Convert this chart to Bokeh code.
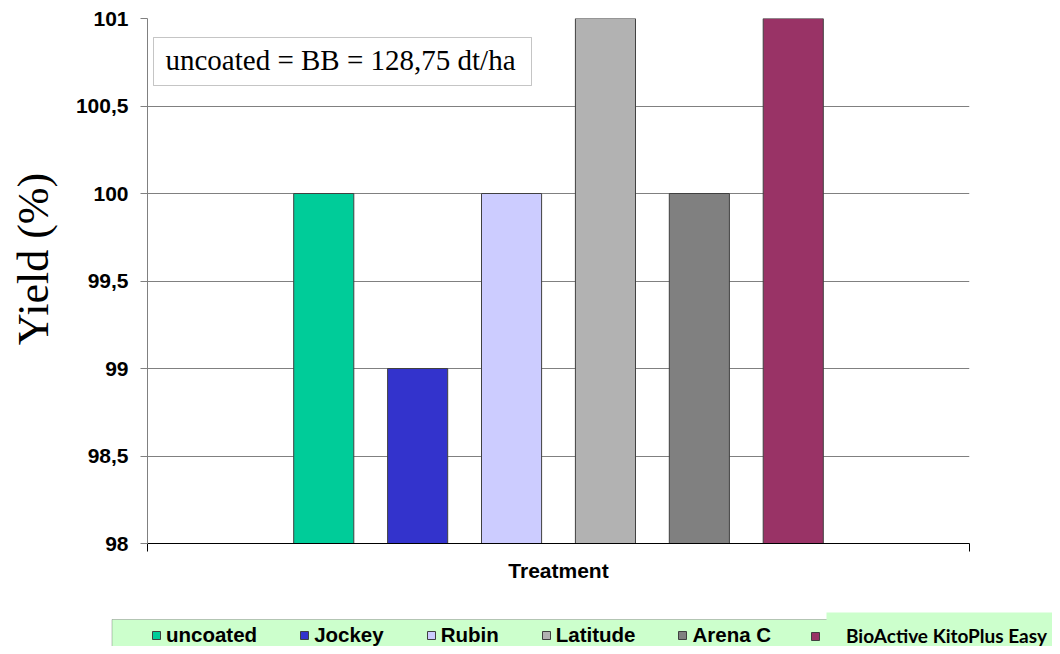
from bokeh.plotting import figure
from bokeh.layouts import column, row
from bokeh.models import (Range1d, FixedTicker, Legend, LegendItem, Label,
                          BoxAnnotation, ColumnDataSource)
from bokeh.embed import file_html
from bokeh.resources import INLINE

# ---- data ----
categories = ["uncoated", "Jockey", "Rubin", "Latitude", "Arena C", "BioActive KitoPlus Easy"]
yield_pct = [100, 99, 100, 101, 100, 101]
colors = ["#00CC99", "#3333CC", "#CCCCFF", "#B2B2B2", "#808080", "#993366"]
y_ticks = [98, 98.5, 99, 99.5, 100, 100.5, 101]
y_tick_labels = ["98", "98,5", "99", "99,5", "100", "100,5", "101"]
note_text = "uncoated = BB = 128,75 dt/ha"
y_title = "Yield (%)"
x_title = "Treatment"
y_min, y_max = 98, 101

x_pos = list(range(1, len(categories) + 1))
pad = 1.877
x_start, x_end = x_pos[0] - pad, x_pos[-1] + pad

src = ColumnDataSource(dict(x=x_pos, top=yield_pct, color=colors, label=categories))

W = 1052
H_MAIN = 600
H_LEG = 46

p = figure(width=W, height=H_MAIN,
           x_range=Range1d(x_start, x_end), y_range=Range1d(y_min, y_max),
           output_backend="svg", toolbar_location=None,
           min_border_left=147, min_border_right=83,
           min_border_top=18, min_border_bottom=57)
p.outline_line_color = None

bars = p.vbar(x="x", top="top", bottom=y_min, width=0.64, source=src,
              fill_color="color", line_color="#404040", line_width=1)

# grid
p.xgrid.visible = False
p.ygrid.grid_line_color = "#808080"
p.ygrid.grid_line_width = 1

# y axis
p.yaxis.ticker = FixedTicker(ticks=y_ticks)
p.yaxis.major_label_overrides = dict(zip(y_ticks, y_tick_labels))
p.yaxis.axis_line_color = "#808080"
p.yaxis.major_tick_line_color = "#808080"
p.yaxis.major_tick_out = 7
p.yaxis.major_tick_in = 0
p.yaxis.minor_tick_line_color = None
p.yaxis.major_label_text_font = "Liberation Sans"
p.yaxis.major_label_text_font_style = "bold"
p.yaxis.major_label_text_font_size = "21px"
p.yaxis.major_label_text_color = "black"
p.yaxis.major_label_standoff = 12
p.yaxis.axis_label = "\u00a0" * 4 + y_title
p.yaxis.axis_label_text_font = "Liberation Serif"
p.yaxis.axis_label_text_font_style = "normal"
p.yaxis.axis_label_text_font_size = "44px"
p.yaxis.axis_label_text_color = "black"
p.yaxis.axis_label_standoff = 15

# x axis
p.xaxis.ticker = FixedTicker(ticks=[x_start, x_end])
p.xaxis.major_label_overrides = {x_start: "", x_end: ""}
p.xaxis.axis_line_color = "black"
p.xaxis.major_tick_line_color = "black"
p.xaxis.major_tick_out = 8
p.xaxis.major_tick_in = 0
p.xaxis.minor_tick_line_color = None
p.xaxis.major_label_standoff = 0
p.xaxis.axis_label = x_title
p.xaxis.axis_label_text_font = "Liberation Sans"
p.xaxis.axis_label_text_font_style = "bold"
p.xaxis.axis_label_text_font_size = "21px"
p.xaxis.axis_label_text_color = "black"
p.xaxis.axis_label_standoff = 7

# note box
note_box = BoxAnnotation(left=153, right=531, top=37, bottom=85,
                         left_units="canvas", right_units="canvas",
                         top_units="canvas", bottom_units="canvas",
                         fill_color="white", fill_alpha=1,
                         line_color="#404040", line_width=1)
p.add_layout(note_box)
p.add_layout(Label(x=165, y=59, x_units="canvas", y_units="canvas",
                   text=note_text, text_font="Liberation Serif",
                   text_font_size="29px", text_color="black",
                   text_baseline="alphabetic"))

# ---- legend strip ----
lf = figure(width=W, height=H_LEG, x_range=Range1d(0, W), y_range=Range1d(H_LEG, 0),
            output_backend="svg", toolbar_location=None,
            x_axis_location=None, y_axis_location=None,
            min_border=0, min_border_left=0, min_border_right=0,
            min_border_top=0, min_border_bottom=0)
lf.outline_line_color = None
lf.xgrid.visible = False
lf.ygrid.visible = False

# proxy renderer (outside the strip's view) that supplies the legend swatches
proxy = lf.vbar(x="x", top="top", bottom=y_min, width=0.64, source=src,
                fill_color="color", line_color="#404040", line_width=1)

lf.add_layout(BoxAnnotation(left=111.5, right=1200, top=19, bottom=200,
                            fill_color="#CCFFCC", fill_alpha=1,
                            line_color="#404040", line_width=1))
lf.add_layout(BoxAnnotation(left=826, right=1200, top=12, bottom=200,
                            fill_color="#CCFFCC", fill_alpha=1, line_color=None))

legend1 = Legend(items=[LegendItem(label=categories[i], renderers=[proxy], index=i)
                        for i in range(5)],
                 orientation="horizontal", location=(151, -1),
                 glyph_width=10, glyph_height=10, label_standoff=5, spacing=42,
                 label_height=20,
                 padding=0, margin=0, border_line_color=None,
                 background_fill_alpha=0,
                 label_text_font="Liberation Sans", label_text_font_style="bold",
                 label_text_font_size="20.5px", label_text_color="black")
lf.add_layout(legend1, "center")

legend2 = Legend(items=[LegendItem(label=categories[5], renderers=[proxy], index=5)],
                 orientation="horizontal", location=(810, -1),
                 glyph_width=10, glyph_height=10, label_standoff=26,
                 label_height=20,
                 padding=0, margin=0, border_line_color=None,
                 background_fill_alpha=0,
                 label_text_font="Lato", label_text_font_style="bold",
                 label_text_font_size="19px", label_text_color="black")
lf.add_layout(legend2, "center")

layout = column(p, row(lf), spacing=0)
open("out.html", "w").write(file_html(layout, INLINE))
